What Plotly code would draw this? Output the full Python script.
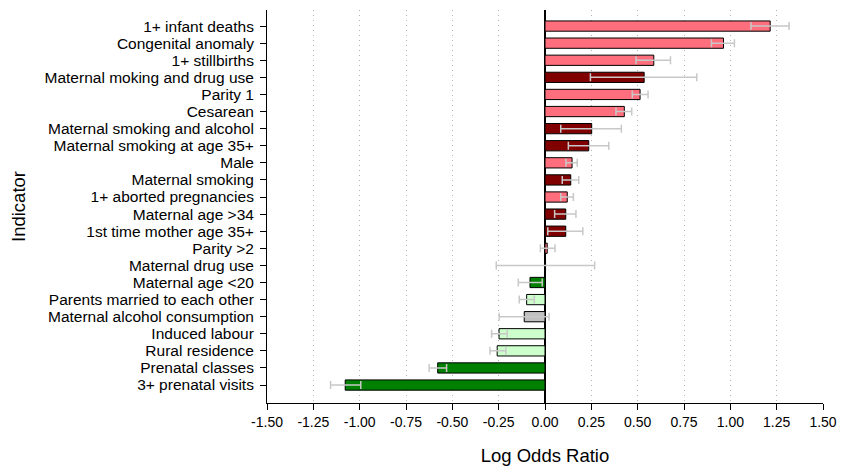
import plotly.graph_objects as go

categories = [
    "1+ infant deaths", "Congenital anomaly", "1+ stillbirths",
    "Maternal moking and drug use", "Parity 1", "Cesarean",
    "Maternal smoking and alcohol", "Maternal smoking at age 35+", "Male",
    "Maternal smoking", "1+ aborted pregnancies", "Maternal age >34",
    "1st time mother age 35+", "Parity >2", "Maternal drug use",
    "Maternal age <20", "Parents married to each other",
    "Maternal alcohol consumption", "Induced labour", "Rural residence",
    "Prenatal classes", "3+ prenatal visits",
]
log_odds = [1.215, 0.963, 0.587, 0.535, 0.513, 0.428, 0.252, 0.236, 0.146,
            0.139, 0.120, 0.112, 0.112, 0.012, 0.003, -0.081, -0.099,
            -0.112, -0.248, -0.258, -0.579, -1.078]
ci_low = [1.111, 0.898, 0.491, 0.245, 0.471, 0.383, 0.085, 0.126, 0.113,
          0.093, 0.085, 0.052, 0.015, -0.025, -0.263, -0.144, -0.139,
          -0.247, -0.288, -0.297, -0.625, -1.157]
ci_high = [1.317, 1.022, 0.677, 0.819, 0.556, 0.468, 0.412, 0.344, 0.174,
           0.182, 0.153, 0.167, 0.204, 0.054, 0.268, -0.015, -0.058,
           0.022, -0.204, -0.211, -0.531, -0.994]
groups = ["risk", "risk", "risk", "smoke", "risk", "risk", "smoke", "smoke",
          "risk", "smoke", "risk", "smoke", "smoke", "risk", "smoke",
          "protect", "light", "neutral", "light", "light", "protect",
          "protect"]
group_colors = {"risk": "#ff6e7c", "smoke": "#800000", "protect": "#008000",
                "light": "#ccffcc", "neutral": "#c0c0c0"}
x_ticks = [-1.5, -1.25, -1.0, -0.75, -0.5, -0.25, 0.0, 0.25, 0.5, 0.75,
           1.0, 1.25, 1.5]

ypos = list(range(len(categories)))
err_plus = [h - v for h, v in zip(ci_high, log_odds)]
err_minus = [v - l for v, l in zip(log_odds, ci_low)]

fig = go.Figure(go.Bar(
    x=log_odds, y=ypos, orientation="h", width=0.6,
    marker=dict(color=[group_colors[g] for g in groups],
                line=dict(color="black", width=1)),
    error_x=dict(type="data", array=err_plus, arrayminus=err_minus,
                 color="#c8c8c8", thickness=1.5, width=4),
))

fig.update_layout(
    width=843, height=460,
    margin=dict(l=259, r=28, t=2, b=65, autoexpand=False),
    plot_bgcolor="white", paper_bgcolor="white",
    font=dict(family="Liberation Sans, Arial, sans-serif", color="black"),
    showlegend=False,
    bargap=0.4,
)
fig.update_xaxes(
    range=[-1.5, 1.5], tickvals=x_ticks,
    ticktext=[f"{v:.2f}" for v in x_ticks],
    tickfont=dict(size=14), ticks="outside", ticklen=6, tickcolor="black",
    showline=True, linecolor="black", linewidth=1,
    showgrid=True, gridcolor="#b4b4b4", griddash="1px,4px", gridwidth=1,
    zeroline=True, zerolinecolor="black", zerolinewidth=1.5,
    automargin=False,
    title=dict(text="Log Odds Ratio", font=dict(size=18.5), standoff=20),
)
fig.update_yaxes(
    range=[len(categories) - 1 + 1.05, -0.94],
    tickvals=ypos, ticktext=categories,
    tickfont=dict(size=15.5), ticks="outside", ticklen=6, tickcolor="black",
    ticklabelstandoff=3,
    showline=True, linecolor="black", linewidth=1,
    showgrid=False, zeroline=False, automargin=False,
    title=dict(text="Indicator", font=dict(size=18.5), standoff=14),
)

fig.write_html("out.html")
